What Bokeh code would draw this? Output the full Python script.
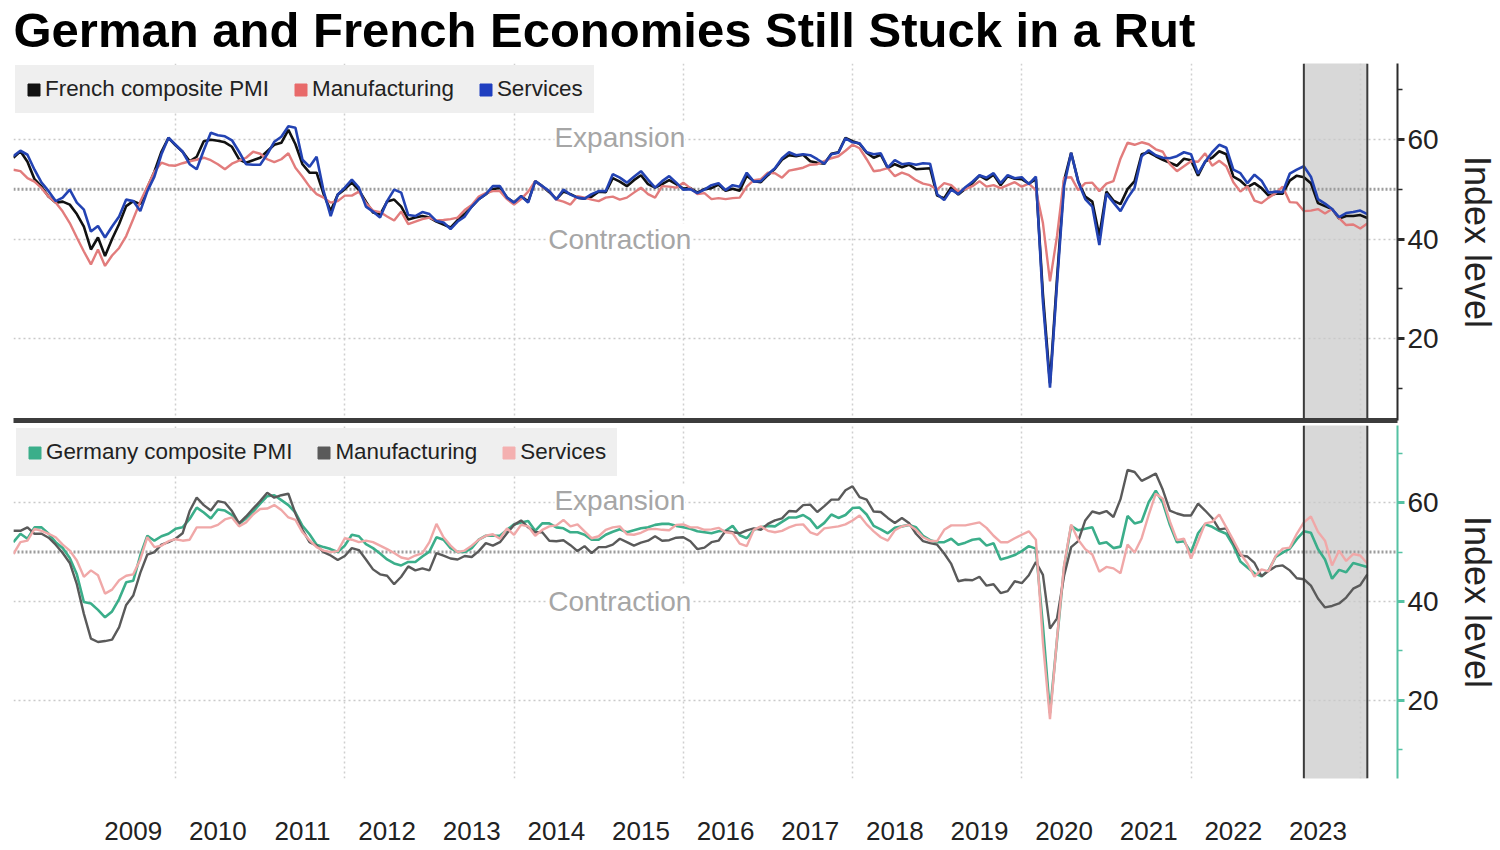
import numpy as np
import pandas as pd
from bokeh.plotting import figure
from bokeh.layouts import column
from bokeh.models import Range1d, FixedTicker, Grid, Span, Label, Legend, LegendItem
from bokeh.embed import file_html
from bokeh.resources import INLINE

# ---------------- data ----------------
TITLE = "German and French Economies Still Stuck in a Rut"
first_month = "2008-01"
shade_from = "2023-04"
shade_to = "2024-01"
year_labels = [str(y) for y in range(2009, 2024)]
gridline_years = list(range(2008, 2025, 2))
y_major = [20, 40, 60]
y_minor = [10, 30, 50, 70]
neutral_level = 50

fr_composite = [
    56.3, 57.6, 55.5, 52.0, 50.5, 48.5, 47.3, 47.5, 46.9, 45.0, 42.5, 37.9,
    40.3, 36.6, 40.0, 43.0, 46.6, 47.6, 47.0, 50.3, 53.5, 57.5, 60.3, 58.8,
    57.5, 55.6, 56.5, 59.6, 59.9, 59.7, 59.4, 58.5, 56.0, 55.3, 55.8, 56.3,
    57.6, 58.9, 59.3, 61.9, 59.0, 55.0, 53.3, 53.3, 49.0, 45.6, 48.9, 50.0,
    51.3, 49.8, 47.5, 45.3, 44.9, 47.5, 47.9, 46.5, 43.9, 44.3, 44.6, 44.3,
    43.5, 42.9, 42.3, 43.8, 45.0, 46.5, 48.0, 49.0, 50.0, 50.3, 48.3, 47.3,
    48.6, 47.5, 51.6, 50.6, 49.4, 48.0, 49.5, 49.0, 48.3, 48.1, 48.5, 49.5,
    49.4, 52.2, 51.5, 50.6, 51.8, 52.8, 51.0, 50.3, 51.0, 51.8, 51.0, 50.1,
    50.2, 49.3, 50.0, 50.2, 50.9, 49.7, 50.1, 49.7, 52.7, 51.6, 51.4, 52.8,
    54.1, 55.9, 56.8, 56.6, 56.9, 55.6, 55.3, 55.1, 57.1, 57.4, 60.3, 59.6,
    59.1, 57.3, 56.3, 56.9, 54.2, 55.0, 54.4, 54.9, 54.0, 54.1, 54.2, 48.7,
    48.2, 50.4, 48.9, 50.1, 51.2, 52.7, 51.9, 52.9, 50.8, 52.6, 52.1, 52.0,
    51.1, 52.0, 28.9, 11.1, 32.1, 51.7, 57.3, 51.6, 48.5, 47.5, 40.6, 49.5,
    47.7, 47.0, 50.0, 51.6, 57.0, 57.4, 56.6, 55.9, 55.3, 54.7, 56.1, 55.8,
    52.7, 55.5, 56.3, 57.6, 57.0, 52.5, 51.7, 50.4, 51.2, 50.2, 48.7, 49.1,
    49.1, 51.7, 52.7, 52.4, 51.2, 47.2, 46.6, 46.0, 44.1, 44.6, 44.6, 44.8,
    44.2,
]

fr_manufacturing = [
    53.9, 53.6, 52.2, 51.5, 50.2, 48.5, 47.3, 45.5, 43.2, 40.3, 37.5, 34.9,
    37.9, 34.6, 36.7, 38.2, 40.6, 44.0, 47.5, 50.5, 53.5, 55.3, 54.8, 54.7,
    55.2, 55.6, 55.9, 56.3, 55.8, 55.0, 54.0, 55.1, 55.7, 56.3, 57.5, 57.1,
    56.0, 55.4, 56.0, 57.2, 54.3, 52.5, 50.5, 49.0, 48.3, 47.3, 47.6, 48.7,
    48.7, 49.5, 47.2, 45.7, 45.4, 44.5, 43.7, 45.5, 43.0, 43.5, 44.0, 44.3,
    43.7, 43.8, 44.0, 44.3, 45.8, 46.8, 48.5, 49.2, 49.6, 49.6, 48.0, 46.9,
    48.0, 49.5, 51.6, 50.5, 49.6, 47.9, 47.5, 46.9, 48.6, 48.3, 47.9, 47.6,
    48.3, 48.5, 47.9, 48.3, 49.3, 50.3, 49.0, 48.3, 50.6, 50.5, 50.3, 51.3,
    50.2, 49.0, 49.2, 48.0, 48.2, 48.0, 48.2, 48.3, 50.5, 51.8, 52.0, 53.3,
    53.2, 52.3, 53.7, 54.0, 54.3, 54.9, 55.0, 55.6, 56.2, 56.6, 57.7, 58.9,
    58.2, 56.0, 53.6, 53.8, 54.2, 52.6, 53.3, 52.8, 51.8, 51.1, 50.8, 49.9,
    51.2, 50.8, 49.5, 50.0, 50.6, 51.6, 50.5, 50.8, 50.2, 50.8, 51.4, 50.5,
    51.1, 49.8, 43.2, 31.5, 40.6, 52.3, 52.4, 49.8, 51.2, 51.3, 49.6, 51.1,
    51.6, 56.1, 59.3, 58.9, 59.4, 59.0, 58.0, 57.5, 55.0, 53.6, 54.6, 55.6,
    55.5, 57.2, 54.7, 55.7, 54.6, 51.4, 49.5, 50.6, 47.7, 47.2, 48.3, 49.2,
    50.5, 47.4, 47.3, 45.6, 45.7, 46.0, 45.1, 46.0, 44.2, 42.8, 42.9, 42.1,
    43.1,
]

fr_services = [
    56.6, 57.7, 56.9, 53.9, 51.3, 49.6, 47.6, 48.3, 49.9, 47.3, 45.9, 41.5,
    42.6, 40.3, 42.5, 44.5, 47.9, 47.6, 45.6, 49.6, 52.5, 57.0, 60.3, 58.9,
    57.5, 55.0, 54.0, 57.8, 61.3, 60.8, 60.6, 59.8, 57.5, 55.0, 54.9, 54.9,
    57.0, 59.5, 60.5, 62.6, 62.3, 55.9, 54.5, 56.5, 49.6, 44.6, 48.9, 50.3,
    51.9, 50.3, 46.5, 45.5, 44.3, 47.6, 49.9, 49.3, 44.8, 44.6, 45.4, 45.0,
    43.6, 43.3, 42.0, 43.5, 44.5, 46.5, 48.0, 49.0, 50.6, 50.6, 48.3, 47.3,
    48.6, 47.3, 51.6, 50.6, 49.6, 47.9, 49.9, 48.9, 48.3, 48.1, 49.0, 49.6,
    49.6, 53.0, 52.3, 51.3, 52.5, 53.6, 51.9, 50.3, 51.6, 52.6, 51.3, 49.9,
    50.0, 49.2, 49.9, 50.8, 51.2, 49.8, 50.8, 50.5, 53.3, 51.5, 51.6, 53.0,
    54.2, 56.2, 57.4, 56.8, 57.0, 56.8, 56.0, 55.1, 57.0, 57.3, 60.2, 59.4,
    59.2, 57.4, 57.0, 57.2, 54.3, 55.8, 55.0, 55.2, 54.9, 55.2, 55.1, 49.0,
    47.8, 49.9, 49.0, 50.4, 51.5, 52.8, 52.3, 53.2, 51.2, 52.8, 52.2, 52.4,
    51.0, 52.5, 27.4, 10.2, 31.1, 50.7, 57.3, 51.5, 48.0, 46.5, 38.8, 49.1,
    47.3, 45.6, 48.2, 50.3, 56.6, 57.8, 56.8, 56.3, 56.2, 56.6, 57.4, 57.0,
    53.1, 55.5, 57.4, 58.9, 58.3, 53.9, 53.2, 51.2, 52.9, 51.7, 49.3, 49.5,
    49.4, 53.1, 53.9, 54.6, 52.5, 48.0, 47.1, 46.0, 44.4, 45.2, 45.4, 45.7,
    45.0,
]

de_composite = [
    52.0, 53.7, 52.7, 55.0, 55.0, 53.7, 52.0, 50.8, 48.8, 45.5, 39.9, 39.6,
    38.3, 36.8, 38.0, 40.5, 43.9, 44.2, 49.3, 53.3, 52.3, 53.2, 53.7, 54.7,
    55.0, 56.7, 59.0, 58.0, 56.8, 58.6, 58.4, 57.5, 55.7, 56.8, 58.2, 59.8,
    61.3, 61.5, 60.5, 59.5, 58.0, 55.3, 53.6, 51.5, 51.0, 50.6, 50.0, 51.3,
    53.5, 53.2, 51.6, 50.8, 49.7, 48.5, 47.7, 47.3, 48.0, 48.0, 49.1, 50.1,
    53.0, 52.5, 50.8, 50.0, 50.0, 50.8, 52.5, 53.3, 53.3, 53.3, 54.5, 55.6,
    56.0, 56.3, 54.3, 55.8, 55.8, 55.0, 54.8, 54.0, 54.0, 53.5, 52.5, 52.5,
    53.5, 54.1, 54.6, 54.0, 54.4, 54.8, 55.0, 55.5, 55.7, 55.7, 55.3, 55.0,
    54.7, 54.2, 54.0, 53.8, 54.2, 54.3, 55.3, 53.4, 52.8, 54.5, 55.0, 55.3,
    55.2, 56.1, 57.0, 57.0, 57.5, 56.6, 54.8, 55.9, 57.6, 56.9, 57.5, 58.9,
    59.0, 57.6, 55.3, 54.6, 53.8, 54.9, 55.2, 55.5, 55.0, 53.3, 52.4, 52.0,
    52.0, 52.7, 51.5, 51.9, 52.5, 52.7, 51.3, 51.8, 48.5, 48.9, 49.4, 50.2,
    51.2, 50.7, 35.0, 17.4, 32.3, 47.0, 55.3, 54.4, 54.7, 55.0, 51.7, 52.0,
    50.8, 51.1, 57.3, 55.8, 56.2, 60.1, 62.4, 60.0, 55.5, 52.0, 52.2, 49.9,
    53.8, 55.6, 55.1, 54.3, 53.7, 51.3, 48.1, 46.9, 45.7, 45.1, 46.3, 49.0,
    49.9, 50.7, 52.6, 54.2, 53.9, 50.6, 48.5, 44.6, 46.4, 45.9, 47.8, 47.4,
    47.0,
]

de_manufacturing = [
    54.3, 54.3, 55.0, 53.7, 53.7, 52.9, 51.5, 49.8, 47.8, 43.5, 37.5, 32.5,
    31.8, 32.0, 32.3, 34.8, 39.3, 41.2, 45.8, 49.5, 50.0, 51.5, 52.0, 52.7,
    53.8, 58.3, 61.0, 59.5, 58.4, 60.3, 60.0, 58.3, 55.8, 57.2, 58.8, 60.3,
    62.0, 61.0, 61.5, 61.8, 57.8, 54.5, 52.0, 51.3, 50.0, 49.3, 48.4, 49.2,
    50.8, 50.4, 48.5, 46.5, 45.5, 45.2, 43.5, 45.0, 47.1, 46.3, 46.7, 46.3,
    49.8, 49.3, 48.7, 48.5, 49.2, 49.0, 50.2, 51.8, 51.3, 52.0, 53.8, 55.5,
    56.4, 55.0, 54.0, 54.0, 52.3, 52.2, 52.4, 51.4, 50.2, 51.2, 49.8, 51.0,
    51.0, 51.5, 52.7, 52.0, 51.3, 51.9, 52.3, 53.2, 52.3, 52.4, 52.9, 53.0,
    52.2, 50.6, 50.9, 52.0, 52.3, 54.3, 54.0, 53.8, 54.4, 54.8, 54.5, 55.7,
    56.4, 56.8, 58.3, 58.2, 59.5, 59.6, 58.1, 59.3, 60.6, 60.6, 62.5, 63.3,
    61.1, 60.6, 58.2, 58.1, 56.9, 55.9, 56.9, 55.9, 53.7, 52.2, 51.8, 51.5,
    49.7, 47.6, 44.1, 44.4, 44.3, 45.0, 43.2, 43.5, 41.7, 42.1, 44.1, 43.7,
    45.3, 48.0, 45.4, 34.5, 36.6, 45.2, 51.0, 52.2, 56.4, 58.2, 57.8, 58.3,
    57.1, 60.7, 66.6, 66.2, 64.4, 65.1, 65.9, 62.6, 58.4, 57.8, 57.4, 57.4,
    59.8, 58.4, 56.9, 54.6, 54.8, 52.0, 49.3, 49.1, 47.8, 45.1, 46.2, 47.1,
    47.3, 46.3, 44.7, 44.5, 43.2, 40.6, 38.8, 39.1, 39.6, 40.8, 42.6, 43.3,
    45.5,
]

de_services = [
    49.6, 52.0, 52.3, 54.7, 54.3, 53.7, 53.0, 51.5, 50.3, 48.3, 45.0, 46.3,
    45.3, 41.6, 42.4, 44.3, 45.2, 45.5, 48.5, 53.0, 51.0, 51.3, 52.2, 52.6,
    52.3, 52.5, 55.0, 55.0, 55.0, 55.5, 56.6, 57.0, 55.2, 56.0, 57.6, 58.7,
    58.8, 59.5, 58.5, 57.0, 56.5, 54.0, 52.4, 51.0, 50.3, 50.0, 50.2, 52.8,
    52.5, 52.0, 52.3, 52.0, 51.3, 50.6, 49.8, 48.9, 48.6, 49.3, 49.8, 52.0,
    55.7, 53.0, 51.3, 50.0, 50.3, 51.3, 52.5, 53.3, 53.6, 52.7, 54.8, 53.5,
    55.5, 55.2, 53.3, 54.5, 55.2, 55.4, 56.5, 55.2, 55.6, 54.2, 52.8, 53.2,
    54.5, 55.0, 55.2, 53.6, 53.5, 53.9, 54.6, 54.7, 54.5, 54.4, 55.5, 55.6,
    55.0, 55.0, 54.5, 54.6, 54.9, 54.0, 53.8, 51.7, 51.2, 54.5, 55.2, 54.3,
    54.0, 54.3, 55.0, 55.5, 55.6, 54.0, 53.5, 54.8, 55.0, 55.2, 55.6, 56.4,
    57.4, 55.6, 54.2, 53.0, 52.3, 54.4, 55.2, 55.5, 54.5, 53.0, 52.3, 52.2,
    54.5, 55.4, 55.4, 55.4, 55.7, 56.0, 54.9, 53.3, 52.0, 52.0, 52.8, 53.5,
    54.2, 52.5, 31.7, 16.2, 32.6, 47.3, 55.6, 52.5, 50.6, 49.5, 46.0, 47.0,
    46.7, 45.7, 51.5, 49.9, 52.8, 57.5, 61.8, 60.8, 56.2, 52.4, 52.7, 48.7,
    52.2, 55.8, 56.1, 57.6, 55.0, 52.4, 49.7, 47.7, 45.0, 46.5, 46.1, 49.2,
    50.7, 50.9, 53.7, 56.0, 57.2, 54.1, 52.3, 47.3, 50.3, 48.2, 49.6, 49.3,
    47.7,
]

# ---------------- positions (month-end, decimal years) ----------------
def month_end(period):
    return period.year + period.month / 12.0

months = pd.period_range(first_month, periods=len(fr_composite), freq="M")
xs = np.array([month_end(m) for m in months])
for s in (fr_manufacturing, fr_services, de_composite, de_manufacturing, de_services):
    assert len(s) == len(xs)
shade_x0 = month_end(pd.Period(shade_from, freq="M"))
shade_x1 = month_end(pd.Period(shade_to, freq="M"))
tick_pos = [int(y) + 0.5 for y in year_labels]
overrides = {int(y) + 0.5: y for y in year_labels}

FONT = "Liberation Sans"
W = 1500
TOP_H, BOT_H = 423, 425
BORDER_L, BORDER_R = 13, 103
x_range = Range1d(2008.085, 2024.44)


def style_panel(p, axis_color):
    p.outline_line_color = None
    p.background_fill_color = "white"
    p.border_fill_color = "white"
    ax = p.yaxis[0]
    ax.ticker = FixedTicker(ticks=y_major, minor_ticks=y_minor)
    ax.axis_line_color = axis_color
    ax.axis_line_width = 2
    ax.major_tick_line_color = axis_color
    ax.major_tick_line_width = 3
    ax.major_tick_in = 0
    ax.major_tick_out = 7
    ax.minor_tick_line_color = axis_color
    ax.minor_tick_line_width = 1.5
    ax.minor_tick_in = 0
    ax.minor_tick_out = 5
    ax.major_label_text_font = FONT
    ax.major_label_text_font_size = "28px"
    ax.major_label_text_color = "#222222"
    ax.major_label_standoff = 3
    ax.axis_label = "Index level"
    ax.axis_label_text_font = FONT
    ax.axis_label_text_font_size = "36px"
    ax.axis_label_text_font_style = "normal"
    ax.axis_label_text_color = "#222222"
    ax.axis_label_standoff = 15
    p.ygrid.ticker = FixedTicker(ticks=y_major)
    p.ygrid.grid_line_color = "#c9c9c9"
    p.ygrid.grid_line_dash = "2 3"
    p.ygrid.grid_line_width = 1.5
    p.add_layout(Span(location=neutral_level, dimension="width", line_color="#9c9c9c",
                      line_width=3, line_dash="2 2", level="underlay"))
    p.quad(left=[shade_x0], right=[shade_x1], bottom=[-100], top=[200],
           fill_color="#d8d8d8", line_color=None, level="image")
    for loc in (shade_x0, shade_x1):
        p.add_layout(Span(location=loc, dimension="height", line_color="#3a3a3a", line_width=2))
    for txt, yv in (("Expansion", 60.4), ("Contraction", 40)):
        p.add_layout(Label(x=2015.25, y=yv, text=txt, text_align="center", text_baseline="middle",
                           text_font=FONT, text_font_size="28px", text_color="#a6a6a6",
                           background_fill_color="white", background_fill_alpha=1.0))


def add_legend(p, names, colors, margin):
    items = []
    for n, c in zip(names, colors):
        r = p.quad(left=[xs[0]], right=[xs[0]], bottom=[np.nan], top=[np.nan],
                   fill_color=c, line_color=c)
        items.append(LegendItem(label=n, renderers=[r]))
    lg = Legend(items=items, location="top_left", orientation="horizontal",
                background_fill_color="#efefef", background_fill_alpha=1.0,
                border_line_color="#efefef", border_line_width=11,
                label_text_font=FONT, label_text_font_size="22.4px",
                label_text_color="#222222", glyph_width=15, glyph_height=15,
                label_standoff=4, spacing=24, padding=0, margin=margin)
    p.add_layout(lg, "center")


# ---------------- top panel: France (with chart title) ----------------
top = figure(width=W, height=TOP_H, x_range=x_range, y_range=Range1d(3.6, 75.2),
             output_backend="svg", toolbar_location=None, x_axis_location="below",
             y_axis_location="right", min_border_left=BORDER_L, min_border_right=BORDER_R,
             min_border_top=62, min_border_bottom=3)
top.title.text = TITLE
top.title.text_font = FONT
top.title.text_font_style = "bold"
top.title.text_font_size = "49px"
top.title.text_color = "#000000"
top.title.align = "left"
top.title.offset = 0
top.title.standoff = 0
top.title.padding = dict(left=0, right=0, top=0, bottom=7)
# the heavy rule that separates the two panels
sx = top.xaxis[0]
sx.ticker = FixedTicker(ticks=[])
sx.axis_line_color = "#3c3c3c"
sx.axis_line_width = 5
sx.major_tick_out = 0
sx.major_tick_in = 0
sx.minor_tick_out = 0
sx.minor_tick_in = 0
sx.major_label_standoff = 0
sx.major_label_text_font_size = "1px"
top.add_layout(Grid(dimension=0, ticker=FixedTicker(ticks=gridline_years),
                    grid_line_color="#cfcfcf", grid_line_dash="2 3", grid_line_width=1.5))
style_panel(top, "#2b2b2b")
top.line(xs, fr_composite, line_color="#111111", line_width=2.6)
top.line(xs, fr_manufacturing, line_color="#e27c7c", line_width=2.4)
top.line(xs, fr_services, line_color="#2343b3", line_width=2.6)
add_legend(top, ["French composite PMI", "Manufacturing", "Services"],
           ["#111111", "#e86a6a", "#1f3fc0"], 2)

# ---------------- bottom panel: Germany ----------------
bot = figure(width=W, height=BOT_H, x_range=x_range, y_range=Range1d(4.2, 75.6),
             output_backend="svg", toolbar_location=None, y_axis_location="right",
             min_border_left=BORDER_L, min_border_right=BORDER_R, min_border_top=2,
             min_border_bottom=70)
bot.xaxis.ticker = FixedTicker(ticks=tick_pos)
bot.xaxis.major_label_overrides = overrides
bot.xaxis.axis_line_color = None
bot.xaxis.major_tick_line_color = None
bot.xaxis.minor_tick_line_color = None
bot.xaxis.major_label_text_font = FONT
bot.xaxis.major_label_text_font_size = "26px"
bot.xaxis.major_label_text_color = "#222222"
bot.xaxis.major_label_standoff = 37
bot.xgrid.ticker = FixedTicker(ticks=gridline_years)
bot.xgrid.grid_line_color = "#cfcfcf"
bot.xgrid.grid_line_dash = "2 3"
bot.xgrid.grid_line_width = 1.5
style_panel(bot, "#55c2a3")
bot.line(xs, de_composite, line_color="#3bae8a", line_width=2.6)
bot.line(xs, de_manufacturing, line_color="#5a5a5a", line_width=2.4)
bot.line(xs, de_services, line_color="#f0a8a8", line_width=2.4)
add_legend(bot, ["Germany composite PMI", "Manufacturing", "Services"],
           ["#3bae8a", "#5a5a5a", "#f4b0b0"], 3)

layout = column(top, bot)
open("out.html", "w").write(file_html(layout, INLINE))
